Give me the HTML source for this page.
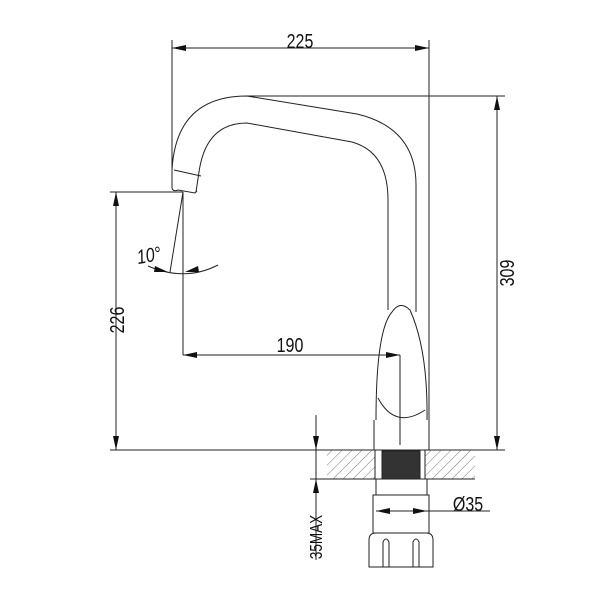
<!DOCTYPE html>
<html><head><style>body{margin:0;background:#fff}svg{display:block}</style></head><body>
<svg width="600" height="600" viewBox="0 0 600 600" xmlns="http://www.w3.org/2000/svg" font-family="Liberation Sans, sans-serif">
<defs>
<pattern id="h" width="7" height="7" patternUnits="userSpaceOnUse" patternTransform="rotate(45)"><line x1="0" y1="0" x2="0" y2="7" stroke="#555" stroke-width="0.8"/></pattern>
</defs>
<g stroke="#222" stroke-width="1" fill="none">
<line x1="172" y1="40" x2="172" y2="185"/>
<line x1="429" y1="40" x2="429" y2="450"/>
<line x1="172" y1="48" x2="429" y2="48"/>
<line x1="247" y1="96" x2="505" y2="96"/>
<line x1="497" y1="96" x2="497" y2="450"/>
<line x1="110" y1="450" x2="505" y2="450"/>
<line x1="110" y1="192" x2="183" y2="192"/>
<line x1="116" y1="192" x2="116" y2="450"/>
<line x1="183" y1="192" x2="183" y2="355"/>
<line x1="183" y1="355" x2="400" y2="355"/>
<line x1="400" y1="355" x2="400" y2="445"/>
<line x1="183" y1="192" x2="170" y2="272"/>
<path d="M148 266 Q185 282 218 265"/>
<path d="M172 188 L172 170 Q176 96 247 96 L357 114 Q416 128 416 185 L416 312"/>
<path d="M196 192 L199 172 Q206 123 247 123 L352 142 Q388 152 388 200 L388 310"/>
<line x1="174" y1="170" x2="201" y2="176"/>
<path d="M172 188 Q173 192 178 190 L195 193 L197 191"/>
<path d="M376 420 Q376 330 392 312 Q400 300 410 310 Q428 350 427 420"/>
<path d="M378 398 Q395 430 425 410"/>
<path d="M374 420 L374 450 M429 420 L429 450"/>
<rect x="327" y="450" width="48" height="29" fill="url(#h)" stroke="none"/>
<rect x="425" y="450" width="50" height="29" fill="url(#h)" stroke="none"/>
<line x1="327" y1="479" x2="475" y2="479"/>
<line x1="375" y1="450" x2="375" y2="479"/>
<line x1="425" y1="450" x2="425" y2="479"/>
<rect x="382" y="451" width="38" height="28" fill="#333"/>
<path d="M376 479 L376 495 M427 479 L427 495"/>
<rect x="373" y="495" width="56" height="38"/>
<path d="M369 567 L369 540 Q369 533 376 533 L426 533 Q433 533 433 540 L433 567 Z"/>
<path d="M383 567 L383 542 Q386 536 389 542 L389 567 M413 567 L413 542 Q416 536 419 542 L419 567"/>
<line x1="316" y1="415" x2="316" y2="560"/>
<line x1="310" y1="479" x2="327" y2="479"/>
<line x1="427" y1="511" x2="490" y2="511"/>
<line x1="376" y1="511" x2="427" y2="511"/>
</g>
<g fill="#111">
<polygon points="172,48 186,45 186,51"/><polygon points="429,48 415,45 415,51"/>
<polygon points="497,96 494,110 500,110"/><polygon points="497,450 494,436 500,436"/>
<polygon points="116,192 113,206 119,206"/><polygon points="116,450 113,436 119,436"/>
<polygon points="183,355 197,352 197,358"/><polygon points="400,355 386,352 386,358"/>
<polygon points="168,272 155,266 154,272"/><polygon points="185,272 198,266 199,272"/>
<polygon points="316,450 313,436 319,436"/><polygon points="316,479 313,493 319,493"/>
<polygon points="376,511 390,508 390,514"/><polygon points="427,511 413,508 413,514"/>
</g>
<g font-size="20" fill="#111" text-anchor="middle">
<text transform="translate(300 48) scale(0.8 1)">225</text>
<text transform="translate(290 352) scale(0.8 1)">190</text>
<text transform="translate(468 511) scale(0.8 1)">Ø35</text>
<text font-style="italic" transform="translate(150 262) rotate(-10) scale(0.8 1)">10°</text>
<text transform="translate(514 273) rotate(-90) scale(0.8 1)">309</text>
<text transform="translate(124 320) rotate(-90) scale(0.8 1)">226</text>
<text font-size="18" transform="translate(322 537) rotate(-90) scale(0.75 1)">35MAX</text>
</g>
</svg>
</body></html>
